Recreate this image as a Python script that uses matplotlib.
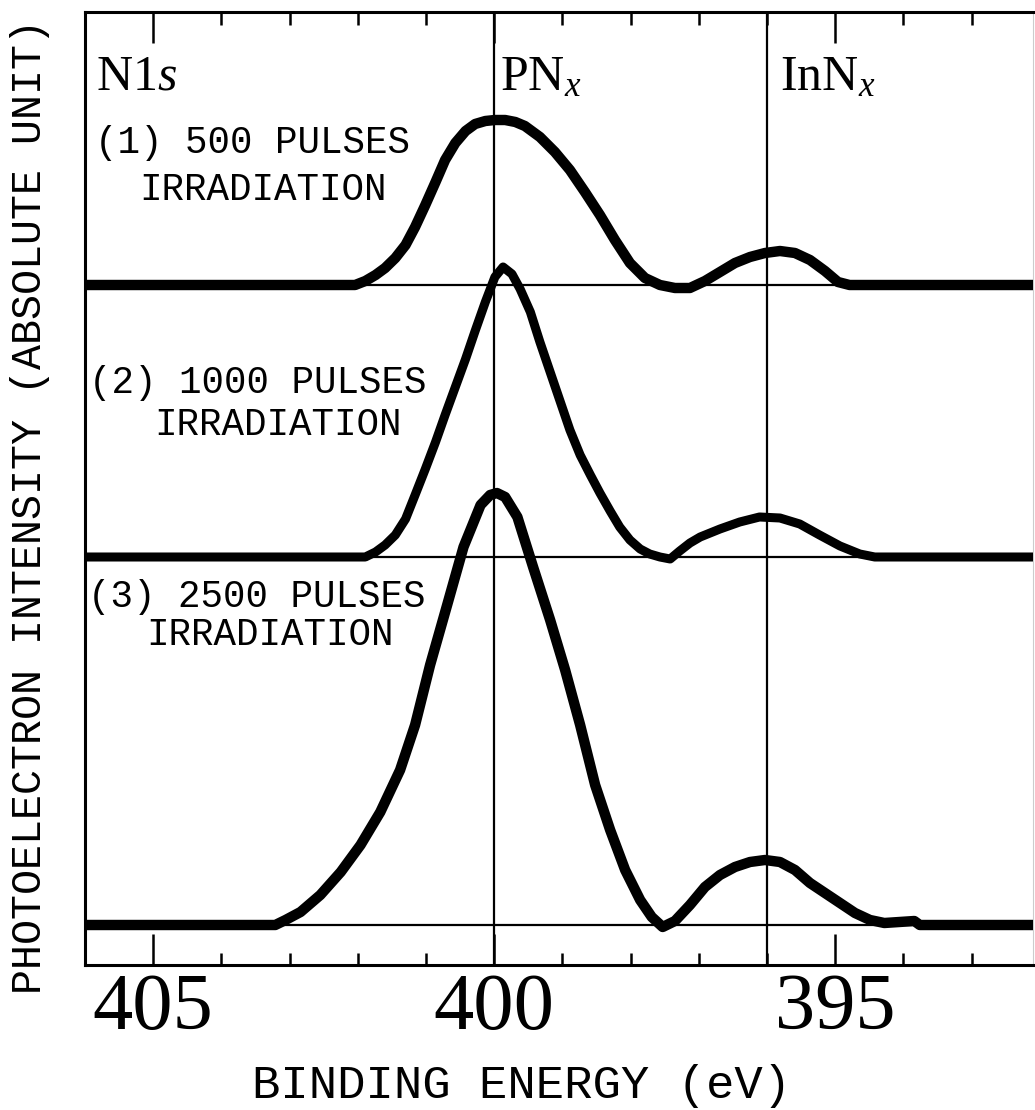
import matplotlib.pyplot as plt
import numpy as np

# binding energy (eV) and intensity above each curve's own baseline (arb. units)
be_500 = [406.0, 402.04, 401.89, 401.74, 401.60, 401.45, 401.30, 401.16, 401.01, 400.86,
          400.72, 400.57, 400.42, 400.28, 400.13, 399.99, 399.84, 399.69, 399.55, 399.33,
          399.11, 398.89, 398.67, 398.45, 398.23, 398.01, 397.79, 397.57, 397.35, 397.13,
          396.91, 396.69, 396.47, 396.25, 396.03, 395.81, 395.59, 395.37, 395.15, 394.96,
          394.79, 392.1]
int_500 = [0, 0, 4, 10, 17, 27, 40, 58, 80, 103,
           125, 142, 154, 161, 164, 165, 165, 163, 159, 148,
           133, 115, 93, 70, 45, 22, 7, 0, -3, -3,
           4, 13, 22, 28, 32, 34, 32, 25, 14, 3,
           0, 0]

be_1000 = [406.0, 401.89, 401.74, 401.60, 401.45, 401.30, 401.16, 401.01, 400.86, 400.72,
           400.57, 400.42, 400.28, 400.13, 399.99, 399.87, 399.74, 399.62, 399.47, 399.33,
           399.18, 399.03, 398.89, 398.74, 398.59, 398.45, 398.30, 398.16, 398.01, 397.86,
           397.72, 397.57, 397.42, 397.28, 397.13, 396.98, 396.69, 396.40, 396.11, 395.81,
           395.52, 395.23, 394.93, 394.64, 394.42, 392.1]
int_1000 = [0, 0, 5, 12, 22, 38, 62, 88, 115, 142,
            170, 198, 226, 255, 280, 290, 283, 268, 245, 215,
            185, 155, 127, 102, 82, 64, 46, 30, 17, 8,
            3, 0, -2, 6, 14, 20, 28, 35, 40, 39,
            33, 22, 11, 3, 0, 0]

be_2500 = [406.0, 403.21, 403.06, 402.84, 402.55, 402.25, 401.96, 401.67, 401.38, 401.16,
           400.94, 400.69, 400.45, 400.20, 400.06, 399.96, 399.84, 399.66, 399.43, 399.18,
           398.96, 398.74, 398.52, 398.30, 398.08, 397.86, 397.69, 397.53, 397.35, 397.13,
           396.91, 396.69, 396.47, 396.25, 396.03, 395.81, 395.59, 395.37, 395.15, 394.93,
           394.71, 394.49, 394.28, 394.06, 393.84, 393.76, 392.1]
int_2500 = [0, 0, 5, 13, 30, 53, 80, 113, 155, 200,
            260, 320, 378, 420, 430, 432, 428, 408, 358, 305,
            255, 200, 140, 95, 55, 25, 8, -2, 4, 20,
            38, 50, 58, 63, 65, 63, 55, 42, 32, 22,
            12, 5, 2, 3, 4, 0, 0]

offsets = [680, 408, 40]
labels = [("(1) 500 PULSES", "IRRADIATION"),
          ("(2) 1000 PULSES", "IRRADIATION"),
          ("(3) 2500 PULSES", "IRRADIATION")]
peak_lines = [400, 396]

plt.rcParams['mathtext.fontset'] = 'custom'
plt.rcParams['mathtext.rm'] = 'Liberation Serif'
plt.rcParams['mathtext.it'] = 'Liberation Serif:italic'

fig = plt.figure(figsize=(10.35, 11.10), dpi=100)
ax = fig.add_axes([85 / 1035, 1 - 965 / 1110, 948 / 1035, 953 / 1110])

ax.set_xlim(406.0, 392.1)
ax.set_ylim(0, 953)

# thin reference lines
for off in offsets:
    ax.axhline(off, color='black', lw=1.6, zorder=1)
for x in peak_lines:
    ax.axvline(x, color='black', lw=1.6, zorder=1)

series = [(be_500, int_500, 7.5), (be_1000, int_1000, 6.5), (be_2500, int_2500, 7.5)]
for (be, inten, lw), off in zip(series, offsets):
    ax.plot(be, np.array(inten) + off, color='black', lw=lw,
            solid_capstyle='round', solid_joinstyle='round', zorder=3)

# pulse labels
mono = 'Liberation Mono'
lab_pos = [((405.86, 812), (405.20, 765)),
           ((405.94, 572), (404.98, 530)),
           ((405.96, 358), (405.10, 320))]
for (l1, l2), ((x1, y1), (x2, y2)) in zip(labels, lab_pos):
    ax.text(x1, y1, l1, family=mono, fontsize=27, va='baseline', ha='left')
    ax.text(x2, y2, l2, family=mono, fontsize=27, va='baseline', ha='left')

# peak names
ax.text(405.84, 875, r'N1$\it{s}$', family='Liberation Serif', fontsize=36, va='baseline')
ax.text(399.91, 875, r'PN$_x$', family='Liberation Serif', fontsize=36, va='baseline')
ax.text(395.81, 875, r'InN$_x$', family='Liberation Serif', fontsize=36, va='baseline')

# ticks
ax.set_xticks([405, 400, 395])
ax.set_xticks(np.arange(393, 406, 1), minor=True)
ax.set_xticklabels(['405', '400', '395'], family='Liberation Serif', fontsize=58)
ax.tick_params(axis='x', which='both', direction='in', top=True, bottom=True)
ax.tick_params(axis='x', which='major', length=22, width=1.8, pad=6)
ax.tick_params(axis='x', which='minor', length=9, width=1.8)
ax.set_yticks([])

for side in ['left', 'top', 'bottom']:
    ax.spines[side].set_linewidth(2.2)
ax.spines['right'].set_color('#cccccc')
ax.spines['right'].set_linewidth(0.8)

fig.text(522 / 1035, 12 / 1110, 'BINDING ENERGY (eV)', family=mono, fontsize=34,
         ha='center', va='baseline')
fig.text(30 / 1035, 1 - 507 / 1110, 'PHOTOELECTRON INTENSITY (ABSOLUTE UNIT)', family=mono,
         fontsize=30, rotation=90, ha='center', va='center')

fig.savefig('out.png', dpi=100)
